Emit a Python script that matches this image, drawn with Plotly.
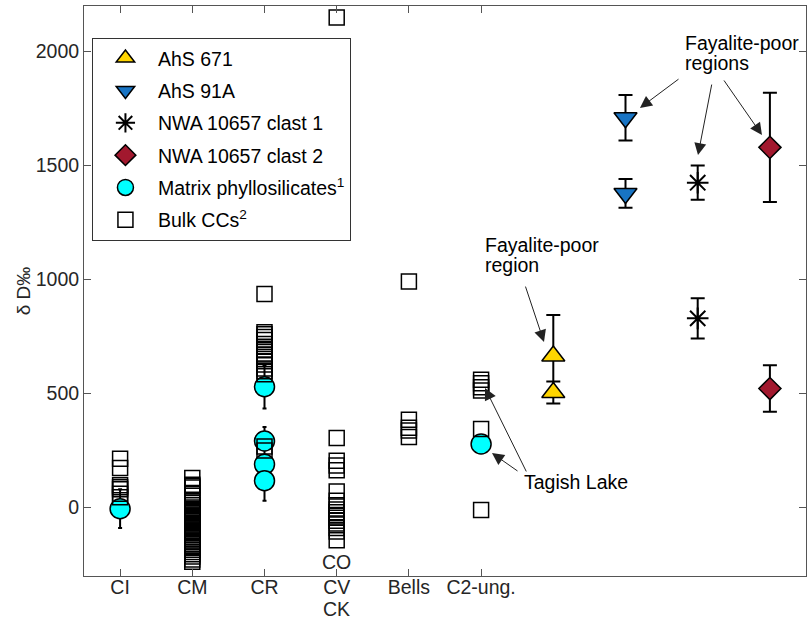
import plotly.graph_objects as go

# ---------------- data ----------------
categories = ["CI", "CM", "CR", "CV", "Bells", "C2-ung."]
cat_pos = [1, 2, 3, 4, 5, 6]

# Bulk carbonaceous chondrites (open squares), per group
bulk_CI = [214, 174, 98, 89, 80, 61, 45]
bulk_CM = [130, 100, 95, 88, 60, 52, 30, 20, 10, 0, -6, -10, -18, -25, -30, -35, -42,
           -50, -55, -58, -66, -74, -80, -84, -88, -96, -104, -108, -112, -120, -128,
           -136, -144, -152, -160, -168, -176, -185, -195, -205, -215, -228, -238]
bulk_CR = [937, 769, 760, 748, 735, 718, 705, 690, 672, 660, 642, 628, 610, 598,
           585, 268, 250]
bulk_CO_CV_CK = [2150, 305, 206, 185, 164, 71, 30, 10, -8, -20, -32, -45, -58,
                 -70, -90, -105, -143]
bulk_Bells = [992, 385, 350, 338, 310]
bulk_C2ung = [561, 545, 528, 514, 345, -10]

# Matrix phyllosilicates (cyan circles)
matrix_x = [1, 3, 3, 3, 3, 6]
matrix_y = [-5, 530, 292, 190, 118, 279]
matrix_err = [85, 95, 62, 40, 88, 25]

# Samples
ahs671_x = [7, 7]
ahs671_y = [665, 505]
ahs671_err = [180, 48]

ahs91a_x = [8, 8]
ahs91a_y = [1710, 1378]
ahs91a_err = [100, 63]

nwa1_x = [9, 9]
nwa1_y = [1425, 830]
nwa1_err = [75, 88]

nwa2_x = [10, 10]
nwa2_y = [1580, 522]
nwa2_err = [240, 102]

# ---------------- figure ----------------
FONT = "Liberation Sans, Arial, Helvetica, sans-serif"
FS = 19.5
fig = go.Figure()

bulk_groups = [bulk_CI, bulk_CM, bulk_CR, bulk_CO_CV_CK, bulk_Bells, bulk_C2ung]
bulk_x, bulk_y = [], []
for p, vals in zip(cat_pos, bulk_groups):
    bulk_x += [p] * len(vals)
    bulk_y += vals

def err(arr, w):
    return dict(type="data", array=arr, visible=True, color="black",
                thickness=2, width=w)

fig.add_trace(go.Scatter(
    x=matrix_x, y=matrix_y, mode="markers", name="Matrix phyllosilicates<sup>1</sup>",
    error_y=err(matrix_err, 2),
    marker=dict(symbol="circle", size=20, color="#00FFFF",
                line=dict(color="black", width=1.5)),
    legendgroup="e", legendrank=5))

fig.add_trace(go.Scatter(
    x=bulk_x, y=bulk_y, mode="markers", name="Bulk CCs<sup>2</sup>",
    marker=dict(symbol="square-open", size=15, color="black",
                line=dict(color="black", width=1.5)),
    legendgroup="f", legendrank=6))

fig.add_trace(go.Scatter(
    x=ahs671_x, y=ahs671_y, mode="markers", name="AhS 671",
    error_y=err(ahs671_err, 7),
    marker=dict(symbol="triangle-up", size=20, color="#FFD500",
                line=dict(color="black", width=1.5)),
    legendgroup="a", legendrank=1))

fig.add_trace(go.Scatter(
    x=ahs91a_x, y=ahs91a_y, mode="markers", name="AhS 91A",
    error_y=err(ahs91a_err, 7),
    marker=dict(symbol="triangle-down", size=20, color="#1874C4",
                line=dict(color="black", width=1.5)),
    legendgroup="b", legendrank=2))

fig.add_trace(go.Scatter(
    x=nwa1_x, y=nwa1_y, mode="markers", name="NWA 10657 clast 1",
    error_y=err(nwa1_err, 7),
    marker=dict(symbol="asterisk-open", size=18, color="black",
                line=dict(color="black", width=2)),
    legendgroup="c", legendrank=3))

fig.add_trace(go.Scatter(
    x=nwa2_x, y=nwa2_y, mode="markers", name="NWA 10657 clast 2",
    error_y=err(nwa2_err, 7),
    marker=dict(symbol="diamond", size=17, color="#A2182E",
                line=dict(color="black", width=1.5)),
    legendgroup="d", legendrank=4))

# ---------------- annotations ----------------
txt = dict(family=FONT, size=FS, color="black")
ann = []
text_lines = [
    ("Fayalite-poor", 8.79, 2038),
    ("regions", 8.79, 1952),
    ("Fayalite-poor", 6.02, 1152),
    ("region", 6.02, 1066),
    ("Tagish Lake", 6.56, 112),
]
for t, x, y in text_lines:
    ann.append(dict(x=x, y=y, xref="x", yref="y", text=t, showarrow=False,
                    xanchor="left", yanchor="middle", font=txt))

arrows = [
    ((8.755, 1884), (8.20, 1753)),
    ((9.198, 1862), (9.004, 1546)),
    ((9.35, 1880), (9.89, 1634)),
    ((6.608, 976), (6.871, 726)),
    ((6.636, 152), (6.054, 525)),
    ((6.525, 156), (6.151, 239)),
]
for (tx, ty), (hx, hy) in arrows:
    ann.append(dict(x=hx, y=hy, ax=tx, ay=ty, xref="x", yref="y", axref="x", ayref="y",
                    text="", showarrow=True, arrowhead=2, arrowsize=2.4,
                    arrowwidth=1, arrowcolor="#222222"))

# multi-line category label CO / CV / CK (CV is the tick label)
ann.append(dict(x=4, y=0.0246, xref="x", yref="paper", text="CO", showarrow=False,
                yanchor="middle", font=dict(family=FONT, size=FS, color="#262626")))
ann.append(dict(x=4, y=-0.0579, xref="x", yref="paper", text="CK", showarrow=False,
                yanchor="middle", font=dict(family=FONT, size=FS, color="#262626")))

fig.update_layout(
    width=812, height=622,
    margin=dict(l=84, r=6, t=6, b=46),
    paper_bgcolor="white", plot_bgcolor="white",
    font=dict(family=FONT, size=FS, color="#262626"),
    annotations=ann,
    legend=dict(x=0.011, y=0.944, xanchor="left", yanchor="top",
                bgcolor="white", bordercolor="#333333", borderwidth=1,
                font=dict(family=FONT, size=FS, color="black"),
                traceorder="grouped", tracegroupgap=4, itemwidth=55),
    showlegend=True,
)
fig.update_xaxes(range=[0.5, 10.5], tickvals=cat_pos, ticktext=categories,
                 ticks="inside", ticklen=7, tickcolor="#555555",
                 showline=True, linecolor="#555555", linewidth=1, mirror="ticks",
                 showgrid=False, zeroline=False, ticklabelstandoff=-6,
                 tickfont=dict(family=FONT, size=FS, color="#262626"))
fig.update_yaxes(range=[-300, 2200], tickvals=[0, 500, 1000, 1500, 2000],
                 ticks="inside", ticklen=7, tickcolor="#555555",
                 showline=True, linecolor="#555555", linewidth=1, mirror="ticks",
                 showgrid=False, zeroline=False,
                 tickfont=dict(family=FONT, size=FS, color="#262626"),
                 title=dict(text="δ D‰", font=dict(family=FONT, size=19, color="#262626"),
                            standoff=0))

fig.write_html("out.html", config={"displayModeBar": False},
               post_script="document.body.style.margin='0px';")
